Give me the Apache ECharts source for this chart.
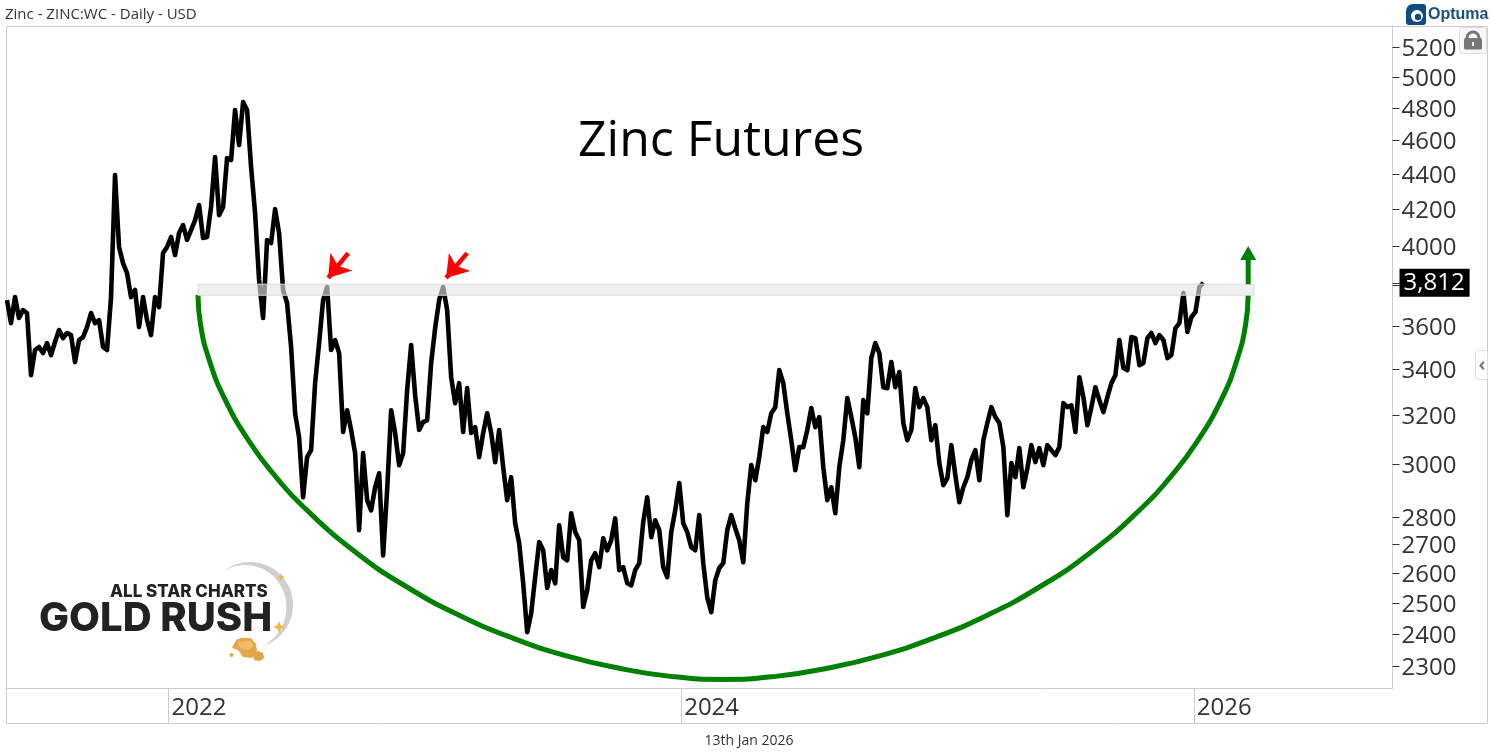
<!DOCTYPE html>
<html>
<head>
<meta charset="utf-8">
<style>html,body{margin:0;padding:0;background:#fff}#c{width:1494px;height:756px}</style>
<script src="https://cdn.jsdelivr.net/npm/echarts@6/dist/echarts.min.js"></script>
</head>
<body>
<div id="c"></div>
<script>
// Closing prices, one reading per 5.7 calendar days from mid-May 2021
const closePrices = [
3726,3615,3741,3639,3677,3663,3375,3489,3503,3475,3521,3466,3526,3582,3544,3568,3558,3434,3535,3549,
3596,3663,3615,3629,3503,3489,3741,4393,3996,3912,3861,3741,3776,3596,3741,3629,3558,3741,3692,3964,
3996,4049,3954,4070,4113,4033,4086,4140,4223,4044,4049,4212,4499,4167,4212,4493,4481,4786,4570,4836,
4786,4440,4178,3826,3639,4033,4017,4200,4070,3776,3711,3503,3210,3110,2874,3030,3058,3340,3521,3726,
3791,3489,3535,3475,3132,3223,3140,3046,2752,3046,2863,2825,2912,2966,2662,2901,3223,3128,2998,3046,
3309,3512,3287,3140,3173,3181,3430,3591,3726,3791,3677,3366,3253,3340,3132,3318,3128,3152,3030,3128,
3210,3128,3010,3140,2990,2863,2951,2777,2705,2566,2406,2467,2587,2709,2680,2550,2611,2566,2770,2655,
2645,2814,2745,2716,2487,2543,2645,2670,2621,2723,2680,2716,2795,2611,2621,2566,2559,2611,2635,2781,
2874,2727,2788,2752,2621,2587,2745,2825,2928,2777,2745,2691,2680,2807,2635,2519,2470,2576,2618,2635,
2752,2807,2759,2716,2638,2851,2998,2939,3030,3152,3132,3210,3236,3398,3340,3210,3098,2978,3070,3070,
3140,3232,3152,3194,2990,2863,2912,2814,2990,3098,3275,3194,3110,2990,3266,3210,3452,3521,3475,3322,
3318,3434,3322,3389,3169,3098,3140,3318,3236,3275,3236,3098,3160,3006,2920,2947,3078,2959,2855,2912,
2951,3018,3058,2939,3098,3169,3236,3194,3169,3070,2807,3006,2951,3066,2912,2986,3078,3010,3066,2998,
3078,3058,3038,3070,3253,3236,3244,3132,3366,3279,3160,3236,3322,3266,3215,3279,3340,3375,3535,3407,
3398,3549,3544,3420,3430,3544,3568,3521,3558,3535,3452,3466,3591,3615,3761,3573,3644,3668,3791,3812
];
const firstYear = 2021.37;
const lastYear = 2026.775;
const stepYears = 0.01561;

const xTickYears = [2022, 2024, 2026];
const yTickLabels = [2300,2400,2500,2600,2700,2800,3000,3200,3400,3600,3812,4000,4200,4400,4600,4800,5000,5200];
const yTickMarks = [2300,2400,2500,2600,2700,2800,3000,3200,3400,3600,3800,3812,4000,4200,4400,4600,4800,5000,5200];
const lastPrice = 3812;

// Rounded-bottom annotation
const arcYears = [2022.115,2022.125,2022.156,2022.218,2022.320,2022.423,2022.525,2022.730,2022.935,2023.140,2023.344,2023.549,2023.754,2023.959,2024.164,2024.369,2024.574,2024.778,2024.983,2025.188,2025.393,2025.598,2025.803,2025.905,2026.008,2026.110,2026.171,2026.202,2026.212];
const arcPrices = [3751,3608,3454,3275,3085,2947,2839,2673,2551,2458,2387,2333,2295,2270,2261,2270,2295,2333,2387,2458,2551,2673,2839,2947,3085,3275,3454,3608,3751];
const stemYears = [2026.212, 2026.212];
const stemPrices = [3805, 3964];

const bandYears = [2022.115, 2026.235];
const bandPrices = [3750, 3805];
const arrowTailYears = [2022.701, 2023.165];
const arrowTipYears = [2022.623, 2023.083];
const arrowTailPrice = 3964;
const arrowTipPrice = 3836;

const priceSeries = closePrices.map((v,i)=>[firstYear + i*stepYears, v]);
const arcSeries = arcYears.map((y,i)=>[y, arcPrices[i]]);
const stemSeries = stemYears.map((y,i)=>[y, stemPrices[i]]);
const FONT = '"Open Sans", sans-serif';

// decorative logo shapes
function crescentPoints(){
  const outer=[],inner=[],n=40,a0=-130,a1=72;
  for(let i=0;i<=n;i++){
    const u=i/n,a=(a0+(a1-a0)*u)*Math.PI/180,t=8*Math.sin(Math.PI*u)*(0.6+0.5*u);
    outer.push([250+43*Math.cos(a),605+43*Math.sin(a)]);
    inner.unshift([250+(43-t)*Math.cos(a),605+(43-t)*Math.sin(a)]);
  }
  return outer.concat(inner);
}
function star(cx,cy,r){
  const k=r*0.28;
  return [[cx,cy-r],[cx+k,cy-k],[cx+r,cy],[cx+k,cy+k],[cx,cy+r],[cx-k,cy+k],[cx-r,cy],[cx-k,cy-k]];
}

const chart = echarts.init(document.getElementById('c'), null, {renderer:'canvas'});
chart.setOption({
  animation:false,
  backgroundColor:'#fff',
  title:{text:'Zinc Futures',left:716,top:112,textAlign:'center',
    textStyle:{fontFamily:FONT,fontSize:50,fontWeight:'normal',color:'#000'}},
  grid:{left:7,top:26,width:1385.5,height:662.5,containLabel:false},
  xAxis:{
    type:'value',min:firstYear,max:lastYear,
    splitLine:{show:false},
    axisLine:{lineStyle:{color:'#ccc',width:1}},
    axisTick:{customValues:xTickYears,length:35,lineStyle:{color:'#ccc',width:1}},
    axisLabel:{customValues:xTickYears,formatter:v=>String(Math.round(v)),
      align:'left',margin:8,padding:[0,0,0,3],fontFamily:FONT,fontSize:24,color:'#333'}
  },
  yAxis:{
    type:'log',logBase:10,position:'right',min:2234,max:5346,
    splitLine:{show:false},
    axisLine:{show:true,lineStyle:{color:'#ccc',width:1}},
    axisTick:{customValues:yTickMarks,length:7,lineStyle:{color:'#333',width:1}},
    axisLabel:{customValues:yTickLabels,margin:7,fontFamily:FONT,fontSize:24,color:'#333',
      formatter:v=>v===lastPrice?'{tag|'+v.toLocaleString('en-US')+'}':'{num|'+v+'}',
      rich:{
        num:{fontFamily:FONT,fontSize:24,color:'#333',padding:[4,0,0,2]},
        tag:{backgroundColor:'#000',color:'#fff',fontFamily:FONT,fontSize:24,padding:[2,5,2,4],lineHeight:29}
      }}
  },
  series:[
    {type:'line',name:'Zinc',data:priceSeries,symbol:'none',z:2,
      lineStyle:{color:'#000',width:4.6,join:'round'},
      markArea:{silent:true,z:10,itemStyle:{color:'rgba(231,231,231,0.62)',borderColor:'#ddd',borderWidth:1},
        data:[[{coord:[bandYears[0],bandPrices[1]]},{coord:[bandYears[1],bandPrices[0]]}]]},
      markLine:{silent:true,z:12,symbol:['none','arrow'],symbolSize:21,label:{show:false},
        lineStyle:{color:'#ff0000',width:4.5,type:'solid'},
        data:arrowTailYears.map((y,i)=>[{coord:[y,arrowTailPrice]},{coord:[arrowTipYears[i],arrowTipPrice]}])}
    },
    {type:'line',name:'Arc',data:arcSeries,symbol:'none',smooth:0.5,z:3,
      lineStyle:{color:'#008000',width:5}},
    {type:'line',name:'Stem',data:stemSeries,z:11,showSymbol:true,showAllSymbol:true,
      symbol:(v,p)=>p.dataIndex===1?'triangle':'none',symbolSize:[16,14],
      itemStyle:{color:'#008000'},lineStyle:{color:'#008000',width:5}}
  ],
  graphic:[
    {type:'rect',silent:true,z:0,shape:{x:6.5,y:26.5,width:1481,height:697},style:{fill:'none',stroke:'#ccc',lineWidth:1}},
    {type:'text',silent:true,x:5,y:7,style:{text:'Zinc - ZINC:WC - Daily - USD',font:'15px "Open Sans", sans-serif',fill:'#333'}},
    {type:'text',silent:true,x:749,y:734,style:{text:'13th Jan 2026',align:'center',font:'14px "Open Sans", sans-serif',fill:'#333'}},
    // Optuma logo
    {type:'rect',silent:true,shape:{x:1406,y:4,width:20,height:21,r:[7,3,3,3]},style:{fill:'#0f4c81'}},
    {type:'circle',silent:true,shape:{cx:1417,cy:16,r:6},style:{fill:'#fff'}},
    {type:'circle',silent:true,shape:{cx:1418,cy:17,r:3.2},style:{fill:'#0f4c81'}},
    {type:'text',silent:true,x:1428,y:7,style:{text:'Optuma',font:'bold 16px "Liberation Sans", sans-serif',fill:'#1b4f7e'}},
    // Lock button
    {type:'rect',silent:true,shape:{x:1459.5,y:27.5,width:27,height:26,r:3},style:{fill:'#f7f7f7',stroke:'#ddd',lineWidth:1}},
    {type:'arc',silent:true,shape:{cx:1473,cy:38,r:6,startAngle:Math.PI,endAngle:0,clockwise:true},style:{fill:'none',stroke:'#777',lineWidth:3}},
    {type:'rect',silent:true,shape:{x:1464,y:38,width:18,height:11.5,r:1.5},style:{fill:'#777'}},
    {type:'rect',silent:true,shape:{x:1472,y:42,width:2,height:4},style:{fill:'#eee'}},
    // Collapse tab
    {type:'rect',silent:true,shape:{x:1475.5,y:350.5,width:12,height:29,r:[3,0,0,3]},style:{fill:'#fff',stroke:'#ddd',lineWidth:1}},
    {type:'polygon',silent:true,shape:{points:[[1483,361],[1479,365.5],[1483,370],[1484.5,368.5],[1482,365.5],[1484.5,362.5]]},style:{fill:'#777'}},
    // Gold Rush logo
    {type:'polygon',silent:true,shape:{points:crescentPoints()},style:{fill:'#cfcfcf'}},
    {type:'text',silent:true,x:110,y:583,style:{text:'ALL STAR CHARTS',font:'800 17px Inter, sans-serif',fill:'#222'}},
    {type:'text',silent:true,x:39,y:599,style:{text:'GOLD RUSH',font:'800 40px Inter, sans-serif',fill:'#222'}},
    {type:'polygon',silent:true,shape:{points:star(281,577,4)},style:{fill:'#f4b63f'}},
    {type:'polygon',silent:true,shape:{points:star(279,627,6)},style:{fill:'#f4b63f'}},
    {type:'polygon',silent:true,shape:{points:[[236,640],[241,638],[251,638],[256,644],[257,652],[252,658],[243,657],[238,650],[232,648]]},style:{fill:'#e3a748'}},
    {type:'polygon',silent:true,shape:{points:[[238,642],[250,641],[254,646],[248,650],[240,648]]},style:{fill:'#f0c068'}},
    {type:'polygon',silent:true,shape:{points:[[253,654],[258,651],[263,653],[264,658],[260,661],[254,660]]},style:{fill:'#e0a445'}},
    {type:'circle',silent:true,shape:{cx:231.5,cy:655,r:2},style:{fill:'#e3a748'}}
  ]
});
</script>
</body>
</html>
